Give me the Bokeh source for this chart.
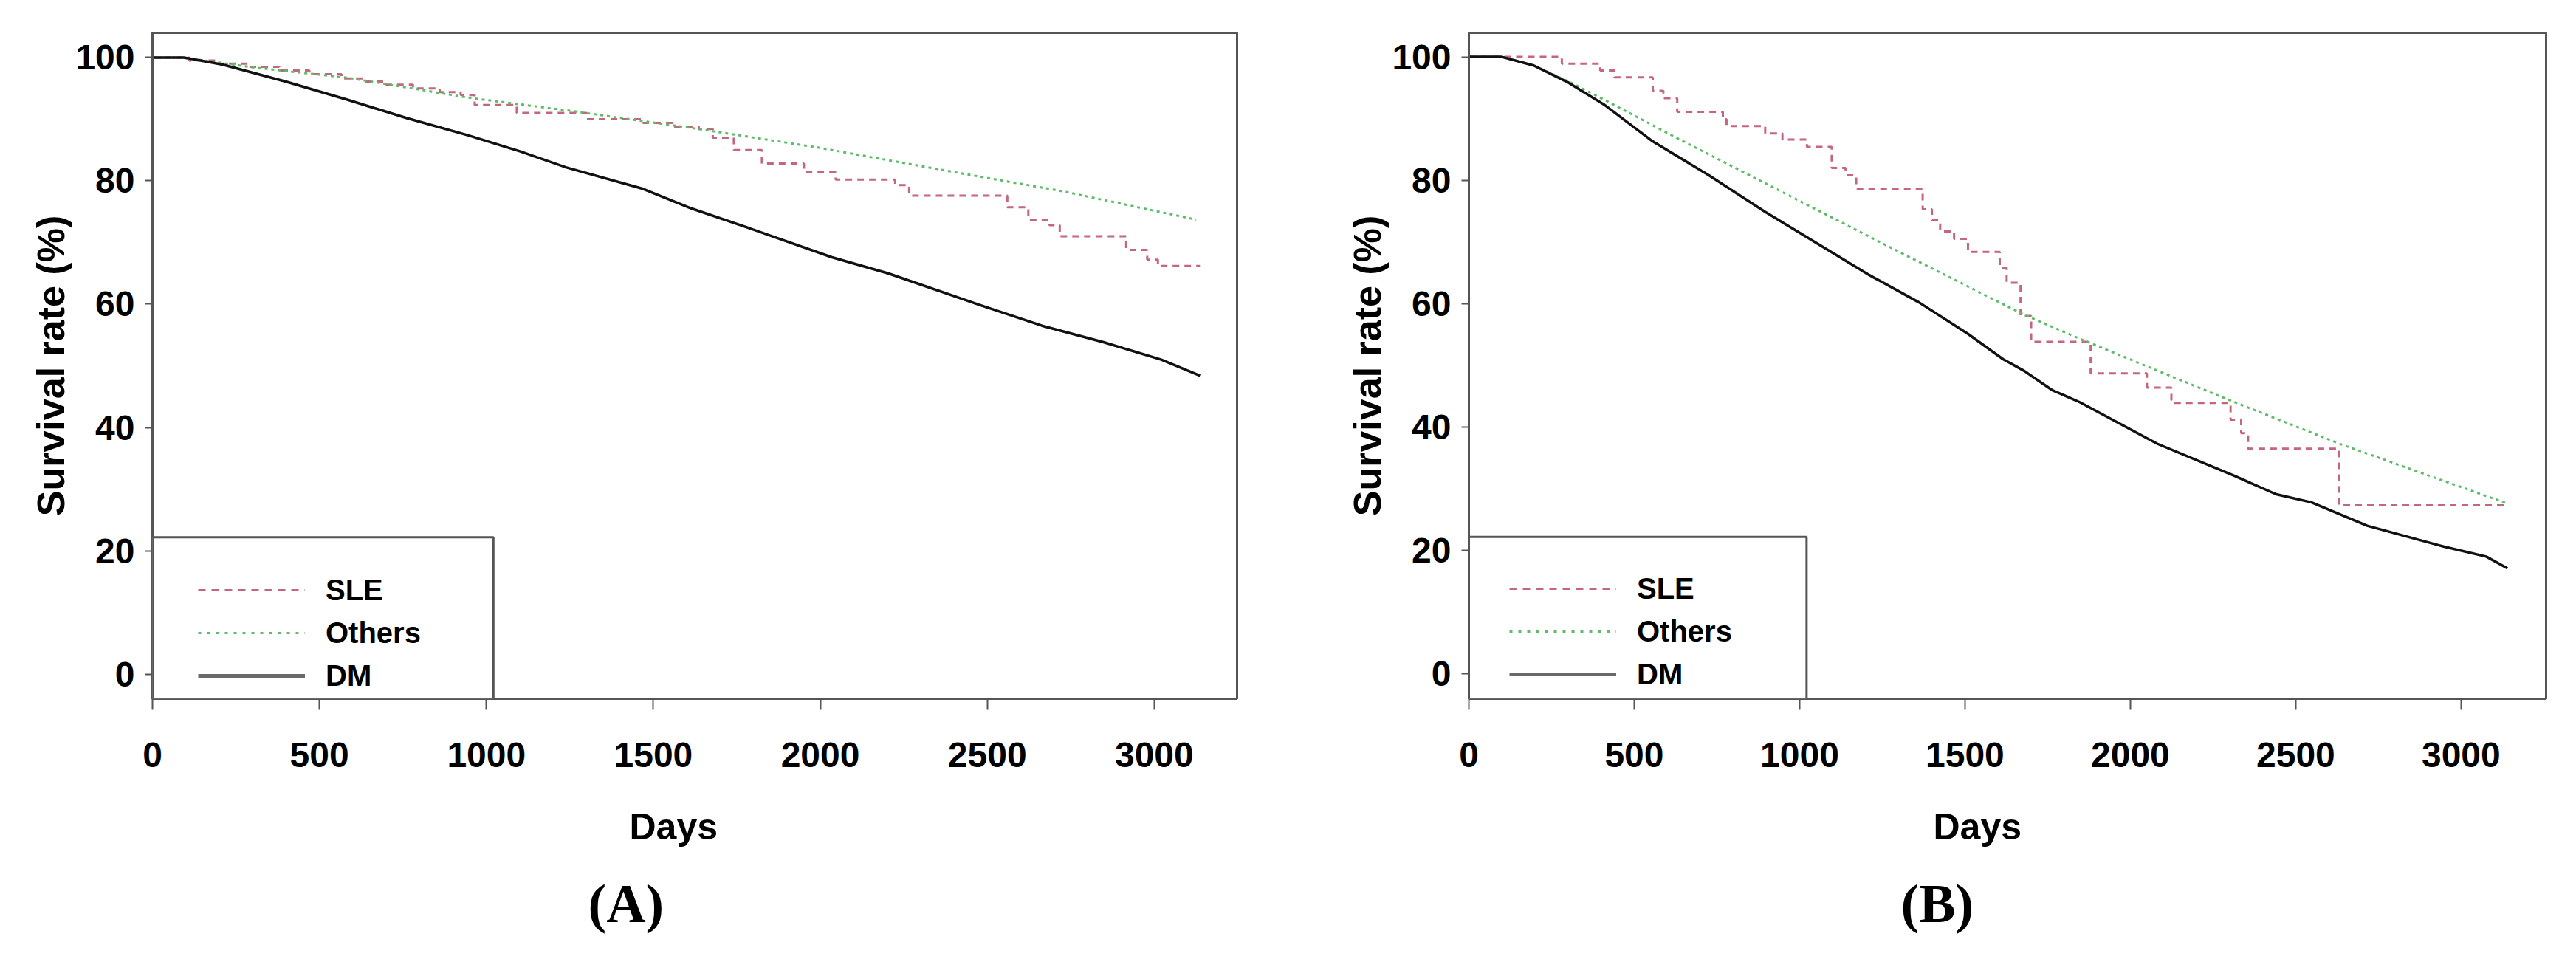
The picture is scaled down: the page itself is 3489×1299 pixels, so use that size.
from bokeh.plotting import figure
from bokeh.layouts import row
from bokeh.models import (FixedTicker, Range1d, BoxAnnotation, Legend, LegendItem, Title)
from bokeh.embed import file_html
from bokeh.resources import INLINE

# ---------------- data ----------------
x_ticks = [0, 500, 1000, 1500, 2000, 2500, 3000]
y_ticks = [0, 20, 40, 60, 80, 100]
series_names = ["SLE", "Others", "DM"]
panel_tags = ["(A)", "(B)"]

# Panel A
a_sle_days = [0, 110, 200, 290, 380, 470, 566, 630, 700, 780, 860, 923, 965, 1091, 1300,
              1469, 1560, 1636, 1678, 1741, 1825, 1951, 2046, 2224, 2266, 2560, 2623, 2686,
              2717, 2916, 2979, 3011, 3137]
a_sle_surv = [100, 99.5, 99.0, 98.5, 97.9, 97.3, 96.6, 96.1, 95.6, 95.0, 94.4, 93.9, 92.3,
              91.0, 90.0, 89.4, 88.8, 88.4, 87.0, 85.0, 82.8, 81.4, 80.2, 79.3, 77.6, 75.7,
              73.7, 72.8, 71.0, 68.8, 67.2, 66.2, 66.2]
a_oth_days = [0, 90, 300, 587, 944, 1259, 1636, 1993, 2413, 2727, 3126]
a_oth_surv = [100, 100, 98.4, 96.7, 93.5, 91.3, 88.4, 85.4, 81.3, 78.3, 73.7]
a_dm_days = [0, 94, 210, 399, 587, 760, 944, 1100, 1238, 1469, 1615, 1783, 2035, 2203, 2476,
             2664, 2850, 3021, 3137]
a_dm_surv = [100, 100, 98.85, 96.1, 93.1, 90.2, 87.4, 84.8, 82.2, 78.7, 75.5, 72.4, 67.6,
             65.0, 59.9, 56.5, 53.8, 51.0, 48.4]

# Panel B
b_sle_days = [0, 281, 397, 440, 556, 588, 630, 768, 779, 896, 948, 1022, 1097, 1139, 1171,
              1372, 1400, 1425, 1467, 1509, 1605, 1626, 1668, 1700, 1880, 2050, 2124, 2303,
              2335, 2356, 2631, 3140]
b_sle_surv = [100, 98.9, 97.8, 96.7, 94.5, 93.3, 91.1, 89.9, 88.8, 87.6, 86.6, 85.4, 82.0,
              80.8, 78.6, 75.3, 73.5, 71.7, 70.5, 68.4, 65.8, 63.4, 58.0, 53.8, 48.7, 46.4,
              43.9, 41.2, 39.0, 36.5, 27.3, 27.3]
b_oth_days = [0, 100, 196, 302, 408, 620, 980, 1297, 1679, 1848, 2293, 2632, 3140]
b_oth_surv = [100, 100, 98.6, 96.0, 93.1, 87.1, 77.2, 68.5, 58.2, 54.3, 44.5, 37.3, 27.6]
b_dm_days = [0, 100, 196, 302, 408, 556, 726, 895, 1043, 1212, 1361, 1509, 1615, 1679, 1763,
             1848, 2081, 2314, 2441, 2547, 2716, 2949, 3076, 3140]
b_dm_surv = [100, 100, 98.6, 95.8, 92.3, 86.3, 80.8, 74.9, 70.1, 64.6, 60.2, 55.1, 51.0,
             49.1, 46.0, 44.0, 37.3, 32.1, 29.1, 27.8, 24.0, 20.6, 19.0, 17.1]

# ---------------- styling ----------------
SANS = "Liberation Sans"
SERIF = "Liberation Serif"
SLE_COLOR = "#c4667e"
OTH_COLOR = "#5dbb6a"
DM_COLOR = "#111111"
FRAME_COLOR = "#555555"
NAN = float("nan")


def make_panel(tag, sle, oth, dm, xmax, ymin, ymax, width, height, mbl, mbr, mbt, mbb,
               leg_x, leg_y, days_off, tag_off):
    p = figure(width=width, height=height, min_border_left=mbl, min_border_right=mbr,
               min_border_top=mbt, min_border_bottom=mbb,
               x_range=Range1d(0, xmax), y_range=Range1d(ymin, ymax),
               output_backend="svg", toolbar_location=None, tools="")
    p.grid.visible = False
    p.background_fill_color = "white"
    p.border_fill_color = "white"
    p.outline_line_color = FRAME_COLOR
    p.outline_line_width = 3

    # axes
    for ax in (p.xaxis[0], p.yaxis[0]):
        ax.axis_line_color = FRAME_COLOR
        ax.axis_line_width = 3
        ax.major_tick_line_color = FRAME_COLOR
        ax.major_tick_line_width = 2
        ax.minor_tick_line_color = None
        ax.major_tick_in = 0
        ax.major_label_text_font = SANS
        ax.major_label_text_font_style = "bold"
        ax.major_label_text_font_size = "48px"
        ax.major_label_text_color = "black"
    p.xaxis.ticker = FixedTicker(ticks=x_ticks)
    p.yaxis.ticker = FixedTicker(ticks=y_ticks)
    p.xaxis.major_tick_out = 15
    p.xaxis.major_label_standoff = 44
    p.yaxis.major_tick_out = 10
    p.yaxis.major_label_standoff = 14
    p.yaxis.axis_label = "Survival rate (%)"
    p.yaxis.axis_label_text_font = SANS
    p.yaxis.axis_label_text_font_style = "bold"
    p.yaxis.axis_label_text_font_size = "52px"
    p.yaxis.axis_label_text_color = "black"
    p.yaxis.axis_label_standoff = 1

    # curves
    p.step(sle[0], sle[1], mode="after", line_color=SLE_COLOR, line_width=3,
           line_dash="9 7")
    p.line(oth[0], oth[1], line_color=OTH_COLOR, line_width=3, line_dash="4 5")
    p.line(dm[0], dm[1], line_color=DM_COLOR, line_width=3.5)

    # legend box
    box = BoxAnnotation(left=0, right=1021, bottom=ymin, top=22.2,
                        fill_color="white", fill_alpha=1.0,
                        line_color=FRAME_COLOR, line_width=3, line_alpha=1.0)
    p.add_layout(box)

    # legend sample renderers (no visible data, only styles for the legend)
    r_sle = p.line(x=[NAN], y=[NAN], line_color=SLE_COLOR, line_width=3, line_dash="10 8")
    r_oth = p.line(x=[NAN], y=[NAN], line_color=OTH_COLOR, line_width=3, line_dash="4 8")
    r_dm = p.line(x=[NAN], y=[NAN], line_color="#6a6a6a", line_width=5)
    legend = Legend(items=[LegendItem(label=series_names[0], renderers=[r_sle]),
                           LegendItem(label=series_names[1], renderers=[r_oth]),
                           LegendItem(label=series_names[2], renderers=[r_dm])],
                    location=(leg_x, leg_y), orientation="vertical",
                    glyph_width=145, glyph_height=46, label_height=46,
                    label_standoff=28, spacing=12, padding=0, margin=0,
                    border_line_alpha=0, background_fill_alpha=0,
                    label_text_font=SANS, label_text_font_style="bold",
                    label_text_font_size="40px", label_text_color="black")
    p.add_layout(legend)

    # spacer, x axis title and panel tag, below the axis
    p.add_layout(Title(text=" ", text_font_size="2px", standoff=29), "below")
    p.add_layout(Title(text="Days", align="left", offset=days_off, standoff=30,
                       text_font=SANS, text_font_style="bold", text_font_size="50px",
                       text_color="black"), "below")
    p.add_layout(Title(text=tag, align="left", offset=tag_off, standoff=37,
                       text_font=SERIF, text_font_style="bold", text_font_size="74px",
                       text_color="black"), "below")
    return p


pA = make_panel(panel_tags[0], (a_sle_days, a_sle_surv), (a_oth_days, a_oth_surv),
                (a_dm_days, a_dm_surv), xmax=3248, ymin=-4.0, ymax=104.0,
                width=1692, height=1283, mbl=206, mbr=17, mbt=35, mbb=337,
                leg_x=62, leg_y=8, days_off=646, tag_off=590)
pB = make_panel(panel_tags[1], (b_sle_days, b_sle_surv), (b_oth_days, b_oth_surv),
                (b_dm_days, b_dm_surv), xmax=3257, ymin=-4.05, ymax=103.9,
                width=1781, height=1283, mbl=297, mbr=25, mbt=44, mbb=330,
                leg_x=55, leg_y=10, days_off=629, tag_off=585)

layout = row(pA, pB)
open("out.html", "w").write(file_html(layout, INLINE))
